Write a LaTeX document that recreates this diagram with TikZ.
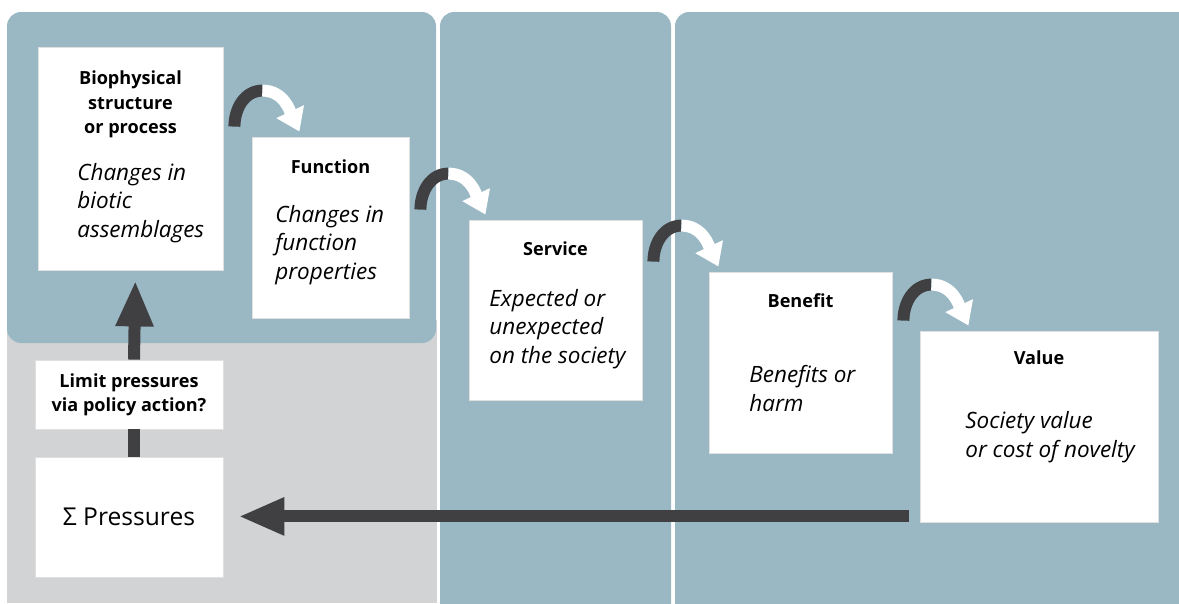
\documentclass[tikz,border=0pt]{standalone}
\usepackage{fontspec}
\setmainfont{Open Sans}
\usepackage{xcolor}
\usetikzlibrary{arrows.meta, positioning, calc}

\definecolor{panelblue}{RGB}{154,184,196}
\definecolor{panelgrey}{RGB}{210,211,213}
\definecolor{arrowgrey}{RGB}{64,64,67}

\tikzset{
  box/.style={fill=white, draw=black!12, line width=0.5pt, inner sep=0pt},
  boxtitle/.style={font=\bfseries\fontsize{10.3}{13.9}\selectfont, align=center, inner sep=0pt, anchor=base},
  boxbody/.style={font=\itshape\fontsize{12.8}{16}\selectfont, align=left, inner sep=0pt, anchor=base west},
  shaft/.style={draw=arrowgrey, line width=0.24cm},
  bigarrow/.style={shaft, -{Triangle[width=0.7cm,length=0.92cm]}},
  hopdark/.style={draw=arrowgrey, line width=0.24cm},
  hoplight/.style={draw=white, line width=0.24cm, -{Triangle[width=0.58cm,length=0.44cm]}}
}

\begin{document}
\begin{tikzpicture}[x=0.02cm, y=-0.02cm]
          \useasboundingbox (0,0) rectangle (1179,603);

          % background panels
          \begin{scope}
            \clip (0,0) rectangle (1179,603);
            \fill[panelgrey] (7,320) rectangle (437,603);
            \fill[panelblue, rounded corners=8] (7,12) rectangle (436,343);
            \fill[panelblue, rounded corners=8] (440,12) rectangle (671,640);
            \fill[panelblue, rounded corners=8] (675,12) rectangle (1200,640);
          \end{scope}

          % boxes
          \node[box, minimum width=3.7cm, minimum height=4.46cm] (bio) at (130.5,158.5) {};
          \node[box, minimum width=3.14cm, minimum height=3.62cm] (func) at (330.5,227.5) {};
          \node[box, minimum width=3.46cm, minimum height=3.6cm] (serv) at (555.5,310) {};
          \node[box, minimum width=3.66cm, minimum height=3.62cm] (bene) at (800.5,362.5) {};
          \node[box, minimum width=4.76cm, minimum height=3.82cm] (val) at (1039,426.5) {};
          \node[box, minimum width=3.76cm, minimum height=1.38cm, font=\bfseries\fontsize{10.3}{13.9}\selectfont, align=center] (limit) at (129,394.5) {Limit pressures\\via policy action?};
          \node[box, minimum width=3.76cm, minimum height=2.4cm, font=\fontsize{14}{17}\selectfont] (press) at (129,517) {Σ Pressures};

          % texts (base = last line)
          \node[boxtitle] at ($(bio.north)+(0,87)$) {Biophysical\\structure\\or process};
          \node[boxbody] at (77,237) {Changes in\\biotic\\assemblages};
          \node[boxtitle] at ($(func.north)+(0,37)$) {Function};
          \node[boxbody] at (275,279) {Changes in\\function\\properties};
          \node[boxtitle] at ($(serv.north)+(0,36)$) {Service};
          \node[boxbody] at (489,363) {Expected or\\unexpected\\on the society};
          \node[boxtitle] at ($(bene.north)+(0,36)$) {Benefit};
          \node[boxbody] at (749,411) {Benefits or\\harm};
          \node[boxtitle] at ($(val.north)+(0,34)$) {Value};
          \node[boxbody] at (965,457) {Society value\\or cost of novelty};

          % hops from box to box
          \foreach \a/\b in {bio/func, func/serv, serv/bene, bene/val} {
            \coordinate (s) at ($(\a.east |- \b.north)+(11,-10)$);
            \draw[hopdark] (s) to[out=90,in=180] ($(s)+(28,-36)$) coordinate (m);
            \draw[hoplight] (m) to[out=0,in=115] ($(s)+(65,5)$);
          }

          % feedback through the pressures
          \coordinate (back) at ($(val.south west)+(-11,-6)$);
          \draw[bigarrow, shorten >=0.3cm] (back) -- (back -| press.east);
          \draw[shaft] ([xshift=0.1cm]press.north) -- ([xshift=0.1cm]limit.south);
          \draw[bigarrow, shorten >=0.2cm] ([xshift=0.1cm]limit.north) -- ([xshift=0.1cm]bio.south);
\end{tikzpicture}
\end{document}
